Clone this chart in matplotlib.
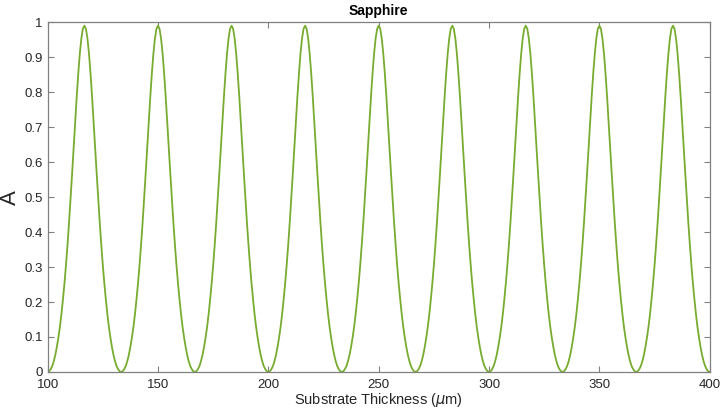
import numpy as np
import matplotlib
matplotlib.use('Agg')
import matplotlib.pyplot as plt

plt.rcParams['font.family'] = ['Liberation Sans', 'DejaVu Sans']

trough_x = [100, 133.3, 166.7, 200, 233.3, 266.7, 300, 333.3, 366.7, 400]
peak_A = [0.99, 0.99, 0.99, 0.99, 0.99, 0.99, 0.99, 0.99, 0.99]
# rising half of one hump, as a fraction of the peak (trough -> peak);
# broad rounded troughs, narrow peaks
rise_profile = [0, 0.002, 0.008, 0.017, 0.031, 0.049, 0.072, 0.099, 0.130,
                0.167, 0.210, 0.257, 0.310, 0.369, 0.433, 0.502, 0.575,
                0.649, 0.724, 0.796, 0.862, 0.919, 0.963, 0.991, 1.0]

xticks = [100, 150, 200, 250, 300, 350, 400]
yticks = [0, 0.1, 0.2, 0.3, 0.4, 0.5, 0.6, 0.7, 0.8, 0.9, 1]

# assemble the curve hump by hump
prof = np.array(rise_profile + rise_profile[-2::-1])
xs, ys = [], []
for i in range(len(peak_A)):
    frac = np.arange(len(prof)) / (len(prof) - 1)
    x = trough_x[i] + frac * (trough_x[i + 1] - trough_x[i])
    y = prof * peak_A[i]
    if i > 0:
        x, y = x[1:], y[1:]
    xs.extend(x)
    ys.extend(y)

fig = plt.figure(figsize=(7.22, 4.11), dpi=100)
ax = fig.add_axes([0.066, 0.095, 0.917, 0.851])
ax.plot(xs, ys, color='#77AC30', lw=1.3)

ax.set_xlim(100, 400)
ax.set_ylim(0, 1)
ax.set_xticks(xticks)
ax.set_yticks(yticks)
ax.set_yticklabels([f'{t:g}' for t in yticks])
ax.tick_params(direction='in', top=True, right=True, length=4,
               width=0.8, colors='#808080', labelcolor='#262626', labelsize=9.5)
ax.tick_params(axis='x', pad=5)
for s in ax.spines.values():
    s.set_color('#808080')
    s.set_linewidth(0.9)

ax.set_title('Sapphire', fontsize=10, fontweight='bold', pad=5)
ax.set_xlabel('Substrate Thickness ($\\mu$m)', fontsize=10.5, color='#262626', labelpad=0)
ax.set_ylabel('A', fontsize=16, color='#262626')
ax.yaxis.set_label_coords(-0.041, 0.5)

fig.savefig('out.png', dpi=100)
